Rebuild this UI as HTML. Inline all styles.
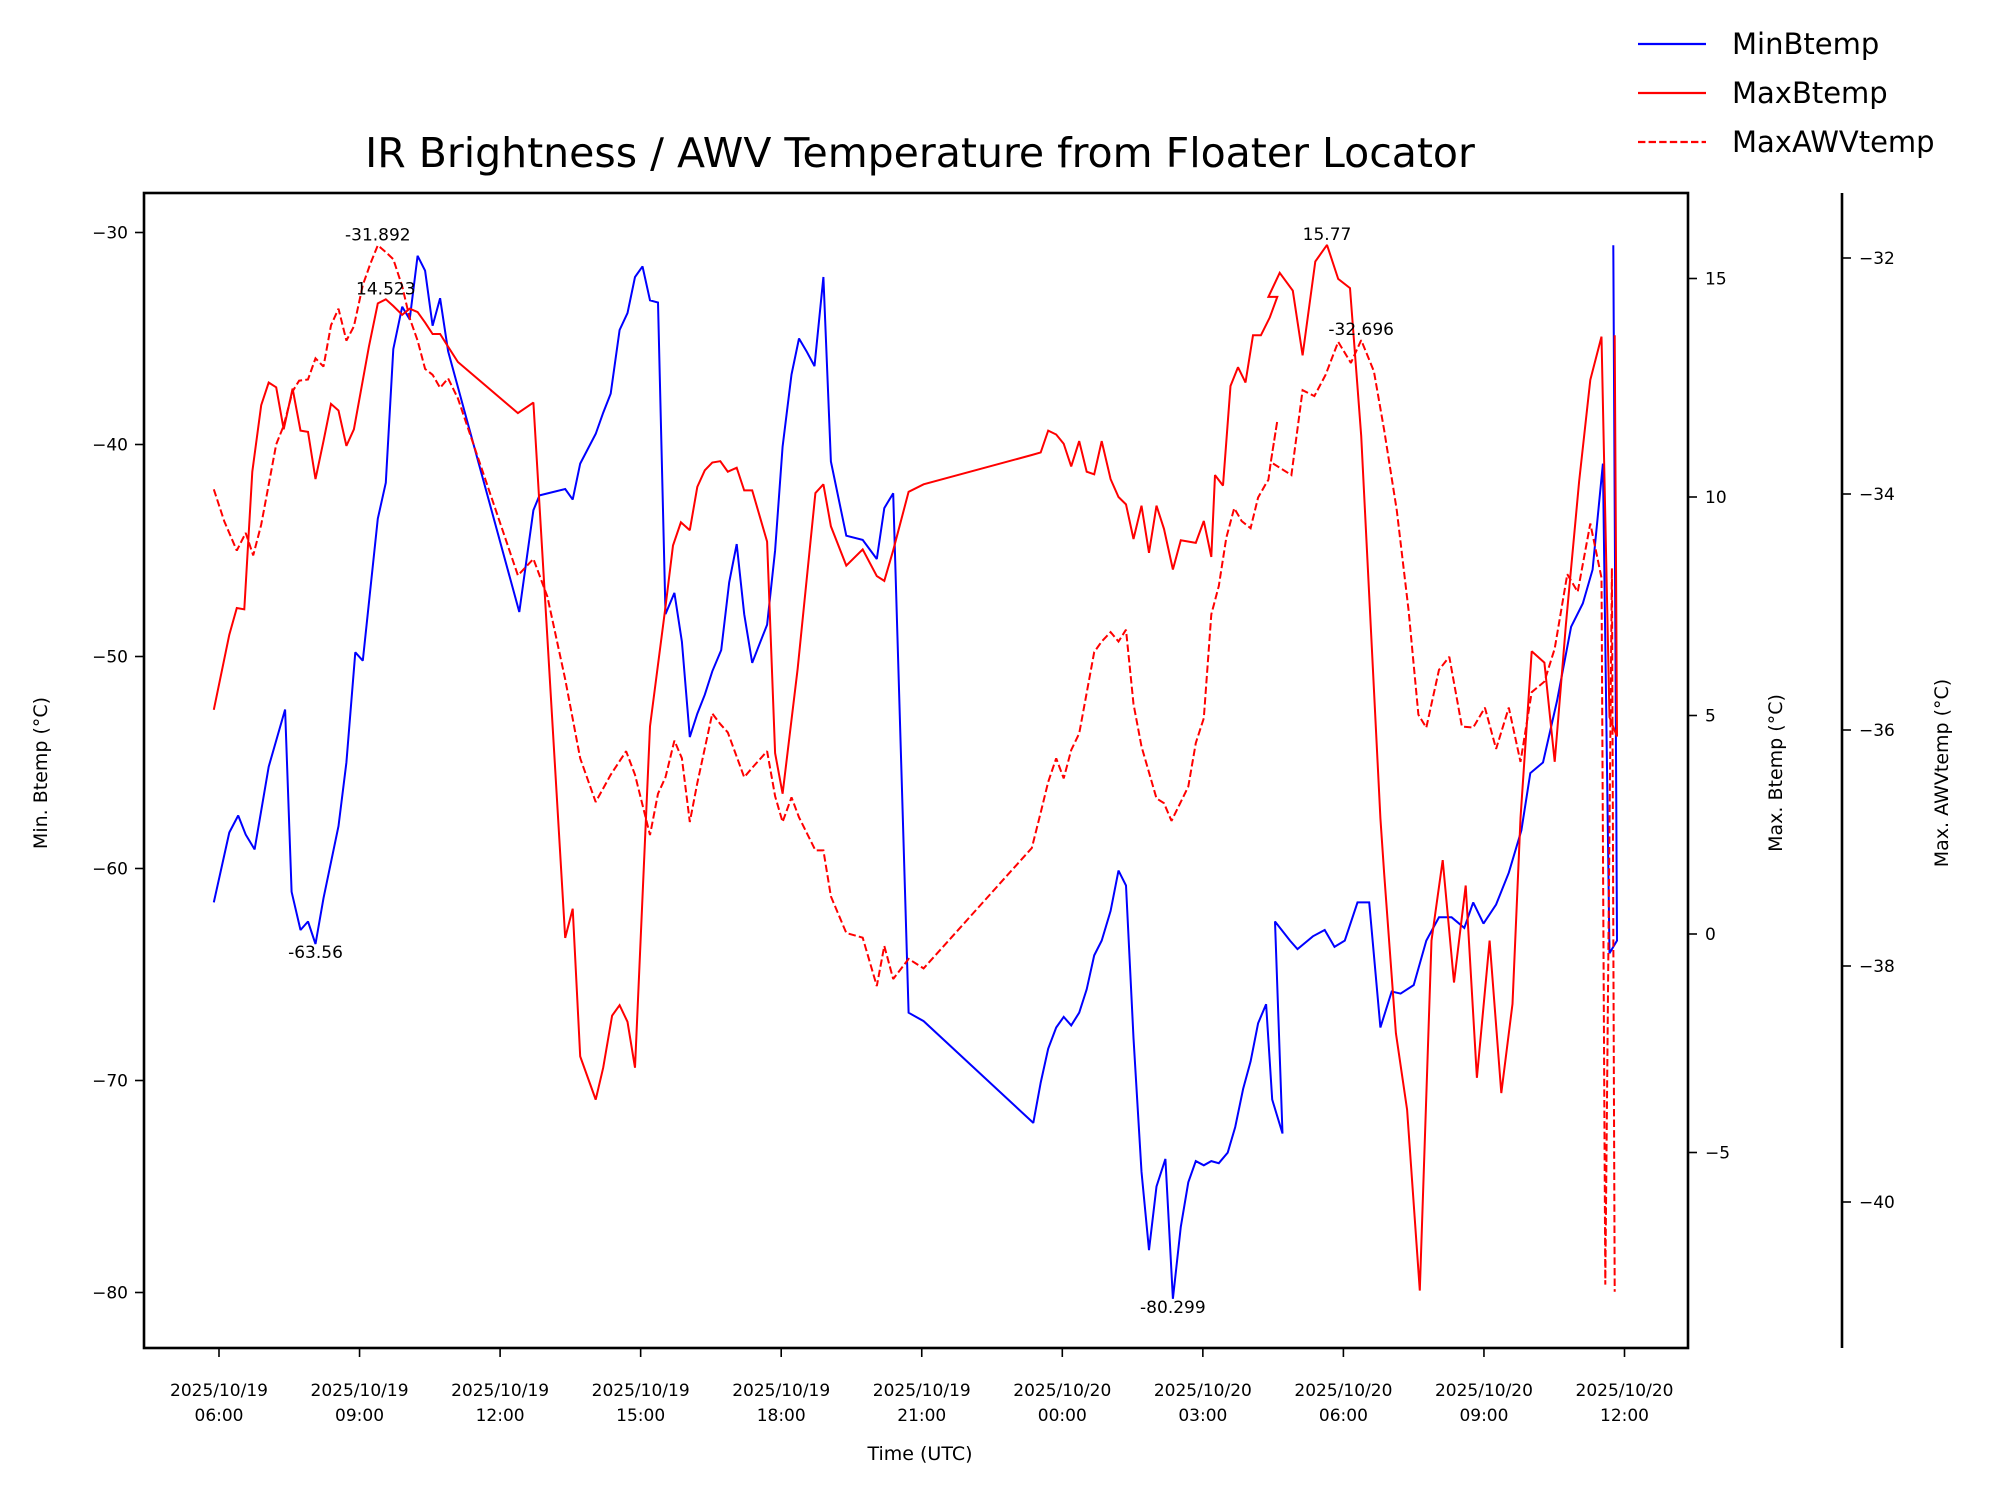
<!DOCTYPE html>
<html><head><meta charset="utf-8"><style>
html,body{margin:0;padding:0;background:#fff;}
svg{display:block;font-family:"DejaVu Sans","Liberation Sans",sans-serif;}
</style></head><body>
<svg id="chart" width="1994" height="1491" viewBox="0 0 1994 1491" xmlns="http://www.w3.org/2000/svg">
<rect width="1994" height="1491" fill="#fff"/>
<text x="920" y="167" font-size="41" text-anchor="middle">IR Brightness / AWV Temperature from Floater Locator</text>
<g id="axes"></g>
<g id="series"></g>
<g id="legend">
 <line x1="1638" y1="44" x2="1706" y2="44" stroke="#0000ff" stroke-width="2.2"/>
 <text x="1732" y="54" font-size="29">MinBtemp</text>
 <line x1="1638" y1="93" x2="1706" y2="93" stroke="#ff0000" stroke-width="2.2"/>
 <text x="1732" y="103" font-size="29">MaxBtemp</text>
 <line x1="1638" y1="142" x2="1706" y2="142" stroke="#ff0000" stroke-width="2.2" stroke-dasharray="7.4,3.2"/>
 <text x="1732" y="152" font-size="29">MaxAWVtemp</text>
</g>
</svg>
<script>
const minTimes=[5.89,6.22,6.41,6.57,6.76,7.06,7.41,7.55,7.74,7.90,8.06,8.23,8.55,8.72,8.91,9.07,9.39,9.56,9.72,9.91,10.07,10.24,10.40,10.56,10.72,10.89,12.41,12.71,12.84,13.39,13.55,13.71,14.04,14.20,14.36,14.55,14.72,14.88,15.04,15.20,15.37,15.53,15.72,15.88,16.05,16.21,16.37,16.53,16.72,16.89,17.05,17.21,17.38,17.54,17.70,17.87,18.03,18.22,18.38,18.54,18.71,18.90,19.06,19.39,19.74,20.04,20.20,20.39,20.72,21.04,23.38,23.54,23.70,23.87,24.03,24.19,24.36,24.52,24.68,24.84,25.03,25.20,25.36,25.52,25.69,25.85,26.01,26.20,26.36,26.53,26.69,26.85,27.02,27.18,27.34,27.53,27.69,27.86,28.02,28.18,28.35,28.48,28.70,28.54,28.86,29.02,29.35,29.60,29.81,30.03,30.30,30.55,30.79,31.03,31.22,31.50,31.77,32.04,32.31,32.58,32.77,32.99,33.26,33.53,33.80,33.99,34.26,34.56,34.86,35.11,35.32,35.54,35.68,35.84,35.76];
const minBtemp=[-61.6,-58.3,-57.5,-58.4,-59.1,-55.2,-52.5,-61.1,-62.9,-62.5,-63.56,-61.4,-58.0,-55.0,-49.8,-50.2,-43.5,-41.8,-35.5,-33.5,-34.1,-31.1,-31.8,-34.4,-33.1,-35.6,-47.9,-43.1,-42.4,-42.1,-42.6,-40.9,-39.5,-38.5,-37.6,-34.6,-33.8,-32.1,-31.6,-33.2,-33.3,-48.0,-47.0,-49.3,-53.8,-52.7,-51.8,-50.7,-49.7,-46.5,-44.7,-48.0,-50.3,-49.4,-48.5,-45.0,-40.1,-36.7,-35.0,-35.6,-36.3,-32.1,-40.8,-44.3,-44.5,-45.4,-43.0,-42.3,-66.8,-67.2,-72.0,-70.1,-68.5,-67.5,-67.0,-67.4,-66.8,-65.7,-64.1,-63.4,-62.0,-60.1,-60.8,-68.0,-74.3,-78.0,-75.0,-73.7,-80.299,-76.9,-74.8,-73.8,-74.0,-73.8,-73.9,-73.4,-72.2,-70.4,-69.1,-67.3,-66.4,-70.9,-72.5,-62.5,-63.4,-63.8,-63.2,-62.9,-63.7,-63.4,-61.6,-61.6,-67.5,-65.8,-65.9,-65.5,-63.4,-62.3,-62.3,-62.8,-61.6,-62.6,-61.7,-60.2,-58.2,-55.5,-55.0,-52.1,-48.6,-47.5,-45.9,-40.9,-64.0,-63.4,-30.6];
const maxTimes=[5.89,6.22,6.38,6.54,6.71,6.90,7.06,7.22,7.38,7.57,7.74,7.90,8.06,8.23,8.39,8.55,8.72,8.88,9.20,9.39,9.56,9.72,9.91,10.07,10.24,10.40,10.56,10.72,10.89,11.10,12.38,12.71,13.39,13.55,13.71,14.04,14.20,14.39,14.55,14.72,14.88,15.20,15.53,15.69,15.86,16.05,16.21,16.37,16.53,16.70,16.86,17.05,17.21,17.38,17.70,17.87,18.03,18.35,18.73,18.90,19.06,19.39,19.74,20.04,20.20,20.39,20.72,21.04,23.35,23.54,23.70,23.87,24.03,24.19,24.36,24.52,24.68,24.84,25.03,25.20,25.36,25.52,25.69,25.85,26.01,26.17,26.36,26.53,26.85,27.02,27.18,27.26,27.43,27.59,27.75,27.91,28.07,28.24,28.43,28.59,28.40,28.64,28.92,29.13,29.40,29.65,29.89,30.14,30.38,30.79,30.87,31.12,31.36,31.63,31.88,32.12,32.36,32.61,32.85,33.12,33.37,33.61,33.78,34.02,34.29,34.51,34.75,35.03,35.27,35.51,35.68,35.84,35.79];
const maxBtemp=[5.13,6.85,7.46,7.43,10.58,12.10,12.62,12.51,11.55,12.48,11.52,11.49,10.41,11.28,12.13,11.98,11.17,11.55,13.44,14.43,14.523,14.37,14.17,14.31,14.23,13.99,13.73,13.73,13.44,13.09,11.92,12.16,-0.09,0.58,-2.80,-3.79,-3.06,-1.87,-1.63,-2.01,-3.06,4.75,7.49,8.89,9.42,9.24,10.23,10.61,10.79,10.82,10.58,10.67,10.15,10.15,8.98,4.14,3.21,6.06,10.09,10.29,9.33,8.43,8.80,8.19,8.08,8.78,10.12,10.29,10.96,11.02,11.52,11.43,11.22,10.70,11.28,10.58,10.52,11.28,10.41,10.00,9.83,9.04,9.80,8.72,9.80,9.27,8.34,9.01,8.95,9.45,8.63,10.50,10.26,12.54,12.97,12.62,13.70,13.70,14.11,14.58,14.58,15.13,14.72,13.24,15.39,15.77,14.99,14.78,11.40,2.65,1.37,-2.27,-4.02,-8.16,-0.15,1.69,-1.11,1.11,-3.29,-0.15,-3.64,-1.60,2.65,6.47,6.21,3.94,7.08,10.35,12.68,13.67,4.96,4.52,13.70];
const awvTimes=[5.89,6.11,6.38,6.57,6.73,6.90,7.06,7.22,7.38,7.57,7.71,7.90,8.06,8.23,8.39,8.55,8.72,8.88,9.07,9.23,9.39,9.56,9.72,9.91,10.07,10.24,10.40,10.56,10.72,10.89,11.10,12.38,12.71,13.01,13.39,13.71,14.04,14.36,14.69,14.88,15.20,15.37,15.53,15.72,15.88,16.05,16.21,16.53,16.70,16.86,17.21,17.38,17.70,17.87,18.03,18.22,18.38,18.73,18.90,19.06,19.39,19.74,20.04,20.20,20.39,20.72,21.04,23.35,23.54,23.70,23.87,24.03,24.19,24.36,24.68,24.84,25.03,25.20,25.36,25.52,25.69,26.01,26.17,26.33,26.69,26.85,27.02,27.18,27.34,27.50,27.67,27.83,28.02,28.18,28.35,28.40,28.45,28.59,28.45,28.89,29.13,29.38,29.62,29.89,30.16,30.38,30.65,30.87,31.14,31.39,31.60,31.77,32.04,32.26,32.53,32.77,33.02,33.26,33.53,33.78,34.02,34.29,34.51,34.78,35.00,35.27,35.51,35.59,35.73,35.79];
const maxAWVtemp=[-33.96,-34.23,-34.48,-34.33,-34.52,-34.26,-33.92,-33.58,-33.42,-33.13,-33.04,-33.03,-32.85,-32.92,-32.57,-32.43,-32.70,-32.58,-32.23,-32.05,-31.892,-31.95,-32.01,-32.24,-32.51,-32.70,-32.94,-32.99,-33.10,-33.02,-33.19,-34.69,-34.55,-34.87,-35.57,-36.24,-36.61,-36.38,-36.18,-36.38,-36.89,-36.54,-36.40,-36.09,-36.24,-36.78,-36.45,-35.86,-35.95,-36.02,-36.40,-36.32,-36.18,-36.56,-36.78,-36.57,-36.74,-37.02,-37.02,-37.41,-37.72,-37.76,-38.17,-37.83,-38.11,-37.94,-38.02,-37.00,-36.70,-36.44,-36.24,-36.41,-36.17,-36.03,-35.34,-35.25,-35.17,-35.25,-35.15,-35.78,-36.14,-36.58,-36.62,-36.77,-36.48,-36.11,-35.90,-35.02,-34.78,-34.37,-34.12,-34.23,-34.29,-34.03,-33.91,-33.88,-33.73,-33.38,-33.73,-33.84,-33.12,-33.17,-32.99,-32.71,-32.89,-32.696,-32.96,-33.46,-34.14,-34.98,-35.87,-35.98,-35.49,-35.38,-35.97,-35.98,-35.81,-36.16,-35.81,-36.27,-35.68,-35.59,-35.31,-34.68,-34.83,-34.25,-34.71,-40.70,-34.63,-40.76];
const xTickHours=[6,9,12,15,18,21,24,27,30,33,36];
const xTickDates=["2025/10/19","2025/10/19","2025/10/19","2025/10/19","2025/10/19","2025/10/19","2025/10/20","2025/10/20","2025/10/20","2025/10/20","2025/10/20"];
const xTickTimes=["06:00","09:00","12:00","15:00","18:00","21:00","00:00","03:00","06:00","09:00","12:00"];
const leftTicks=[-30,-40,-50,-60,-70,-80];
const rightTicks=[15,10,5,0,-5];
const awvTicks=[-32,-34,-36,-38,-40];
const annMin=[-63.56,-80.299];
const annMax=[14.523,15.77];
const annAwv=[-31.892,-32.696];

const NS="http://www.w3.org/2000/svg";
const L=144,R=1688,T=193,B=1348,AX3=1842;
function xs(h){return 219+(h-6)*46.85;}
function yMin(v){return 232.5+(-30-v)*21.2;}
function yMax(v){return 934-v*43.7;}
function yAwv(v){return 258+(-32-v)*118;}
function mk(tag,attrs,parent,text){const e=document.createElementNS(NS,tag);for(const k in attrs)e.setAttribute(k,attrs[k]);if(text!==undefined)e.textContent=text;parent.appendChild(e);return e;}
const ax=document.getElementById('axes');
const se=document.getElementById('series');
const neg=s=>String(s).replace('-','\u2212');

let e=mk('rect',{x:L,y:T,width:R-L,height:B-T,fill:'none',stroke:'#000','stroke-width':2.6},ax);


e=mk('line',{x1:AX3,y1:T,x2:AX3,y2:B,stroke:'#000','stroke-width':2.6},ax);



xTickHours.forEach((h,i)=>{
  const x=xs(h);
  let t=mk('line',{x1:x,y1:B,x2:x,y2:B+9,stroke:'#000','stroke-width':1.6},ax);
  
  
  let l=mk('text',{x:x,y:1396,'font-size':17,'text-anchor':'middle'},ax,xTickDates[i]);
  
  
  let l2=mk('text',{x:x,y:1421,'font-size':17,'text-anchor':'middle'},ax,xTickTimes[i]);
  
  
});
leftTicks.forEach(v=>{
  const y=yMin(v);
  let t=mk('line',{x1:L-9,y1:y,x2:L,y2:y,stroke:'#000','stroke-width':1.6},ax);
  
  
  let l=mk('text',{x:L-16,y:y+6,'font-size':17,'text-anchor':'end'},ax,neg(v));
  
  
});
rightTicks.forEach(v=>{
  const y=yMax(v);
  let t=mk('line',{x1:R,y1:y,x2:R+9,y2:y,stroke:'#000','stroke-width':1.6},ax);
  
  
  let l=mk('text',{x:R+17,y:y+6,'font-size':17},ax,neg(v));
  
  
});
awvTicks.forEach(v=>{
  const y=yAwv(v);
  let t=mk('line',{x1:AX3,y1:y,x2:AX3+9,y2:y,stroke:'#000','stroke-width':1.6},ax);
  
  
  let l=mk('text',{x:AX3+17,y:y+6,'font-size':17},ax,neg(v));
  
  
});
let at=mk('text',{x:920,y:1460,'font-size':19,'text-anchor':'middle'},ax,'Time (UTC)');


at=mk('text',{x:0,y:0,'font-size':19,'text-anchor':'middle',transform:'translate(47,773) rotate(-90)'},ax,'Min. Btemp (°C)');


at=mk('text',{x:0,y:0,'font-size':19,'text-anchor':'middle',transform:'translate(1782,773) rotate(-90)'},ax,'Max. Btemp (°C)');


at=mk('text',{x:0,y:0,'font-size':19,'text-anchor':'middle',transform:'translate(1948,773) rotate(-90)'},ax,'Max. AWVtemp (°C)');



function line(ts,vs,yf,color,dash,name){
  const d=ts.map((t,i)=>(i?'L':'M')+xs(t).toFixed(1)+','+yf(vs[i]).toFixed(1)).join('');
  const p=mk('path',{d:d,fill:'none',stroke:color,'stroke-width':2,'stroke-linejoin':'miter','stroke-miterlimit':2},se);
  if(dash)p.setAttribute('stroke-dasharray','7.4,3.2');
  
  
}
line(minTimes,minBtemp,yMin,'#0000ff',false,'minbtemp-line');
line(maxTimes,maxBtemp,yMax,'#ff0000',false,'maxbtemp-line');
line(awvTimes,maxAWVtemp,yAwv,'#ff0000',true,'maxawvtemp-line');

function annotate(ts,vs,val,yf,below){
  const i=vs.indexOf(val);if(i<0)return;
  const x=xs(ts[i]),y=yf(vs[i]);
  const t=mk('text',{x:x,y:below?y+14:y-5,'font-size':17,'text-anchor':'middle'},se,String(val));
  
  
}
annotate(minTimes,minBtemp,annMin[0],yMin,true);
annotate(minTimes,minBtemp,annMin[1],yMin,true);
annotate(maxTimes,maxBtemp,annMax[0],yMax,false);
annotate(maxTimes,maxBtemp,annMax[1],yMax,false);
annotate(awvTimes,maxAWVtemp,annAwv[0],yAwv,false);
annotate(awvTimes,maxAWVtemp,annAwv[1],yAwv,false);
</script>
</body></html>
